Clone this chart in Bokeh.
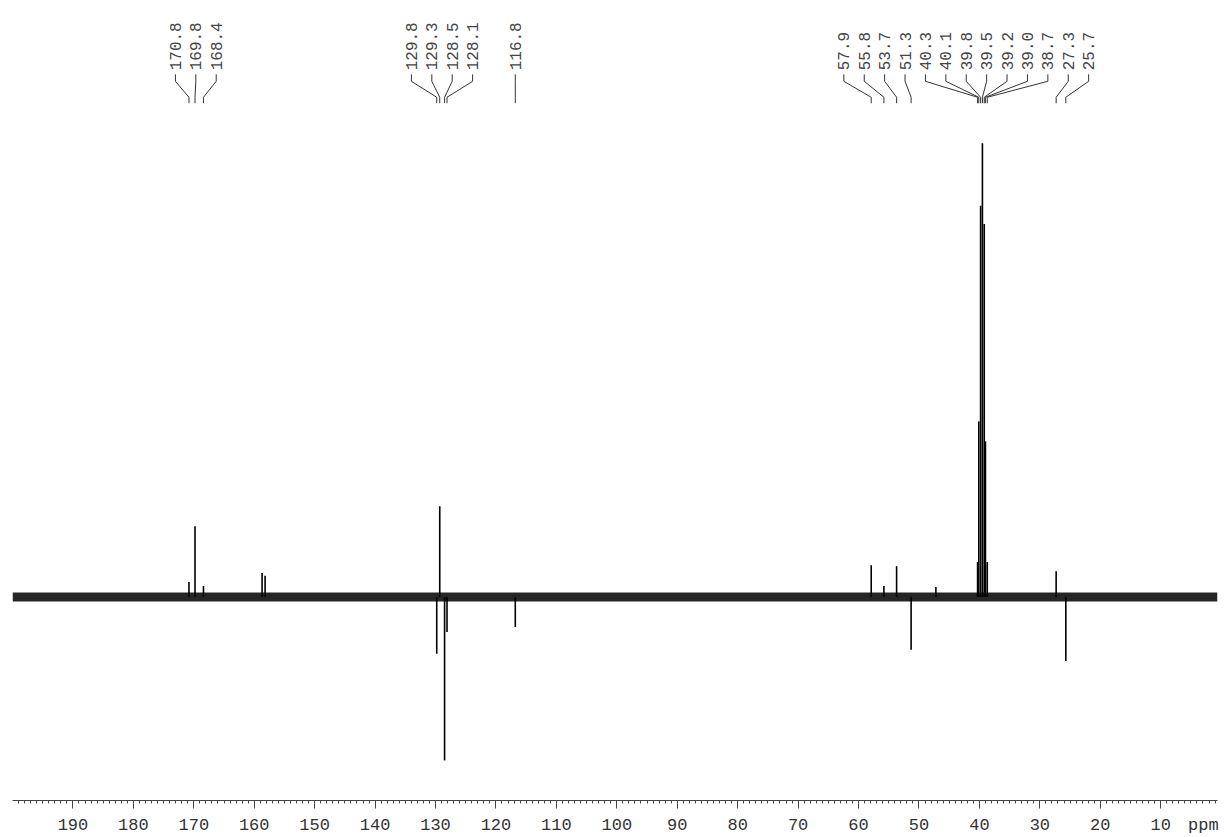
import math
from bokeh.plotting import figure
from bokeh.models import Range1d, FixedTicker, BoxAnnotation, LinearAxis, ColumnDataSource
from bokeh.core.properties import value
from bokeh.embed import file_html
from bokeh.resources import INLINE

# ---------------- data ----------------
peak_ppm = [170.8, 169.8, 168.4, 158.7, 158.2, 129.8, 129.3, 128.5, 128.1, 116.8,
            57.9, 55.8, 53.7, 51.3, 47.2, 40.3, 40.1, 39.8, 39.5, 39.2, 39.0, 38.7,
            27.3, 25.7]
peak_intensity = [3.3, 15.6, 2.4, 5.3, 4.7, -12.5, 20.0, -36.0, -7.7, -6.6,
                  7.0, 2.4, 6.8, -11.6, 2.2, 7.7, 38.7, 86.2, 100.0, 82.2, 34.3, 7.7,
                  5.7, -14.1]
label_ppm = [170.8, 169.8, 168.4, 129.8, 129.3, 128.5, 128.1, 116.8,
             57.9, 55.8, 53.7, 51.3, 40.3, 40.1, 39.8, 39.5, 39.2, 39.0, 38.7, 27.3, 25.7]
tick_values = [190, 180, 170, 160, 150, 140, 130, 120, 110, 100, 90, 80, 70, 60, 50, 40, 30, 20, 10]
tick_labels = [str(v) for v in tick_values]
unit_pos = 2.95
unit_label = "ppm"
noise_level = 1.0

# ---------------- layout ----------------
W, H = 1224, 837
BL, BR, BT, BB = 12, 7, 0, 35
X_START, X_END = 200.0, 0.6
FRAME_W = W - BL - BR
FRAME_H = H - BT - BB
PXU = 4.55            # px per intensity unit
BASE_Y = 598          # baseline, px from frame top
Y1 = BASE_Y / PXU
Y0 = -(FRAME_H - BASE_Y) / PXU
PPX = FRAME_W / (X_START - X_END)


def y_at(px_from_top):
    return Y1 - px_from_top / PXU


LABEL_SP = 20.4 / PPX


def spread(vals, sp):
    clusters = [[v] for v in sorted(vals, reverse=True)]

    def positions(c):
        m = sum(c) / len(c)
        n = len(c)
        return [m + ((n - 1) / 2 - k) * sp for k in range(n)]

    merged = True
    while merged:
        merged = False
        for i in range(len(clusters) - 1):
            a = positions(clusters[i])
            b = positions(clusters[i + 1])
            if a[-1] - b[0] < sp:
                clusters[i] = clusters[i] + clusters[i + 1]
                del clusters[i + 1]
                merged = True
                break
    out = []
    for c in clusters:
        out += positions(c)
    return out


sorted_labels = sorted(label_ppm, reverse=True)
label_x = spread(sorted_labels, LABEL_SP)

p = figure(width=W, height=H, x_range=Range1d(X_START, X_END), y_range=Range1d(Y0, Y1),
           output_backend="svg", toolbar_location=None, y_axis_location=None,
           min_border_left=BL, min_border_right=BR, min_border_top=BT, min_border_bottom=BB)
p.outline_line_color = None
p.xgrid.visible = False
p.ygrid.visible = False
p.background_fill_color = "white"
p.border_fill_color = "white"

# axis 1: line and tick marks only
ax = p.xaxis[0]
ax.ticker = FixedTicker(ticks=tick_values, minor_ticks=list(range(1, 200)))
ax.major_label_overrides = {v: "" for v in tick_values}
ax.major_label_text_font_size = "0px"
ax.major_label_standoff = 0
ax.axis_line_color = "#444444"
ax.major_tick_line_color = "#444444"
ax.minor_tick_line_color = "#444444"
ax.major_tick_out = 8
ax.major_tick_in = 0
ax.minor_tick_out = 3
ax.minor_tick_in = 0

# axis 2: tick labels and unit
lab_ticks = tick_values + [unit_pos]
overrides = {v: t for v, t in zip(tick_values, tick_labels)}
overrides[unit_pos] = unit_label
ax2 = LinearAxis(ticker=FixedTicker(ticks=lab_ticks, minor_ticks=[]),
                 major_label_overrides=overrides,
                 axis_line_color=None, major_tick_line_color=None, minor_tick_line_color=None,
                 major_tick_out=0, major_tick_in=0, minor_tick_out=0, minor_tick_in=0,
                 major_label_standoff=7,
                 major_label_text_font="Liberation Mono", major_label_text_font_size="17px",
                 major_label_text_color="#333333")
p.add_layout(ax2, "below")

# baseline noise band
p.add_layout(BoxAnnotation(bottom=-noise_level, top=noise_level, fill_color="#000000",
                           fill_alpha=0.85, line_color=None, level="underlay"))

# peaks
src = ColumnDataSource(dict(x=peak_ppm, y0=[0] * len(peak_ppm), y1=peak_intensity))
p.segment(x0="x", y0="y0", x1="x", y1="y1", source=src, line_color="black", line_width=1.6)

# peak labels and connectors
xs, ys = [], []
for lx, px in zip(label_x, sorted_labels):
    xs.append([lx, lx, px, px])
    ys.append([y_at(74), y_at(81), y_at(97), y_at(103)])
p.multi_line(xs=xs, ys=ys, line_color="#333333", line_width=1)
lsrc = ColumnDataSource(dict(x=label_x, y=[y_at(70)] * len(label_x),
                             text=[f"{v:.1f}" for v in sorted_labels]))
p.text(x="x", y="y", text="text", source=lsrc, angle=math.pi / 2, text_align="left",
       text_baseline="middle", text_font=value("Liberation Mono"),
       text_font_size=value("16px"), text_color="#444444")

open("out.html", "w").write(file_html(p, INLINE))
